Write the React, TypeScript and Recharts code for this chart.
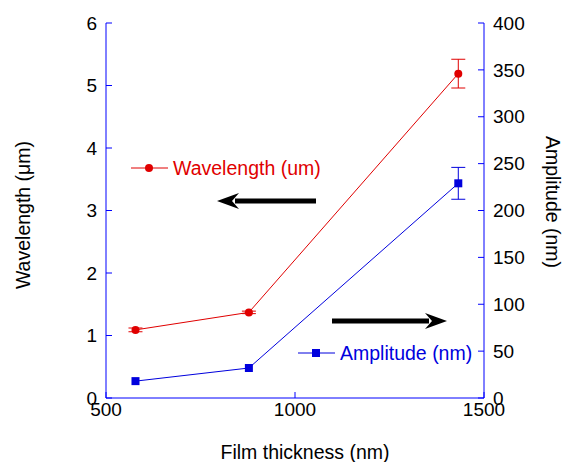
import React from "react"
import {
  ComposedChart,
  Line,
  XAxis,
  YAxis,
  ErrorBar,
} from "recharts"

const thickness = [578, 878, 1432]
const wavelength = [1.09, 1.37, 5.19]
const wavelengthErr = [0.03, 0.02, 0.23]
const amplitude = [18, 32, 229]
const amplitudeErr = [0, 0, 17]

const xTicks = [500, 1000, 1500]
const leftTicks = [0, 1, 2, 3, 4, 5, 6]
const rightTicks = [0, 50, 100, 150, 200, 250, 300, 350, 400]

const RED = "#e00000"
const BLUE = "#0000dd"
const AXIS = "#0000ff"
const FONT = "Arial, 'Liberation Sans', sans-serif"

const data = thickness.map((t, i) => ({
  t,
  wl: wavelength[i],
  wlErr: wavelengthErr[i],
  amp: amplitude[i],
  ampErr: amplitudeErr[i],
}))

const tickStyle = { fontSize: 19, fill: "#000", fontFamily: FONT }

const Square = (props: any) => {
  const { cx, cy } = props
  if (cx == null || cy == null) return null
  return <rect x={cx - 4} y={cy - 4} width={8} height={8} fill={BLUE} />
}

const Dot = (props: any) => {
  const { cx, cy } = props
  if (cx == null || cy == null) return null
  return <circle cx={cx} cy={cy} r={4} fill={RED} />
}

function Arrow({ x1, x2, y }: { x1: number; x2: number; y: number }) {
  // tip at x2
  const dir = x2 > x1 ? 1 : -1
  const head = 22
  const back = x2 - dir * head
  return (
    <g>
      <line x1={x1} y1={y} x2={back + dir * 4} y2={y} stroke="#000" strokeWidth={5} />
      <path
        d={`M${x2},${y} L${back},${y - 8} L${back + dir * 7},${y} L${back},${y + 8} Z`}
        fill="#000"
      />
    </g>
  )
}

export default function App() {
  return (
    <div style={{ position: "absolute", left: 0, top: 0, width: 564, height: 462, background: "#fff" }}>
      <ComposedChart
        width={564}
        height={462}
        data={data}
        margin={{ top: 23, right: 0, left: 0, bottom: 0 }}
      >
        <XAxis
          xAxisId="b"
          dataKey="t"
          type="number"
          domain={[500, 1500]}
          ticks={xTicks}
          height={64}
          stroke={AXIS}
          tickSize={-6}
          tickMargin={11}
          tick={tickStyle}
          allowDataOverflow
        />
        <XAxis
          xAxisId="top"
          orientation="top"
          dataKey="t"
          type="number"
          domain={[500, 1500]}
          ticks={xTicks}
          height={0}
          stroke={AXIS}
          tickSize={-6}
          tick={false}
        />
        <YAxis
          yAxisId="l"
          domain={[0, 6]}
          ticks={leftTicks}
          width={106}
          stroke={AXIS}
          tickSize={-6}
          tickMargin={15}
          tick={tickStyle}
        />
        <YAxis
          yAxisId="r"
          orientation="right"
          domain={[0, 400]}
          ticks={rightTicks}
          width={80}
          stroke={AXIS}
          tickSize={-6}
          tickMargin={15}
          tick={tickStyle}
        />
        <Line
          xAxisId="b"
          yAxisId="l"
          dataKey="wl"
          stroke={RED}
          strokeWidth={1}
          dot={<Dot />}
          activeDot={false}
          isAnimationActive={false}
        >
          <ErrorBar dataKey="wlErr" width={7} stroke={RED} strokeWidth={1} isAnimationActive={false} />
        </Line>
        <Line
          xAxisId="b"
          yAxisId="r"
          dataKey="amp"
          stroke={BLUE}
          strokeWidth={1}
          dot={<Square />}
          activeDot={false}
          isAnimationActive={false}
        >
          <ErrorBar dataKey="ampErr" width={7} stroke={BLUE} strokeWidth={1} isAnimationActive={false} />
        </Line>
      </ComposedChart>
      <svg
        width={564}
        height={462}
        style={{ position: "absolute", left: 0, top: 0, pointerEvents: "none" }}
        fontFamily={FONT}
      >
        {/* legends */}
        <line x1={131} y1={168} x2={168} y2={168} stroke={RED} strokeWidth={1} />
        <circle cx={149} cy={168} r={4} fill={RED} />
        <text x={173} y={175} fontSize={19.5} fill={RED}>Wavelength (um)</text>
        <line x1={298} y1={353} x2={335} y2={353} stroke={BLUE} strokeWidth={1} />
        <rect x={312} y={349} width={8} height={8} fill={BLUE} />
        <text x={340} y={360} fontSize={19.5} fill={BLUE}>Amplitude (nm)</text>
        {/* arrows */}
        <Arrow x1={316} x2={217} y={201} />
        <Arrow x1={332} x2={447} y={321} />
        {/* axis titles */}
        <text
          x={0}
          y={0}
          fontSize={19.5}
          textAnchor="middle"
          transform="translate(30,215) rotate(-90)"
        >
          Wavelength (μm)
        </text>
        <text
          x={0}
          y={0}
          fontSize={19.5}
          textAnchor="middle"
          transform="translate(546,202) rotate(90)"
        >
          Amplitude (nm)
        </text>
        <text x={305} y={459} fontSize={19.5} textAnchor="middle">
          Film thickness (nm)
        </text>
      </svg>
    </div>
  )
}
